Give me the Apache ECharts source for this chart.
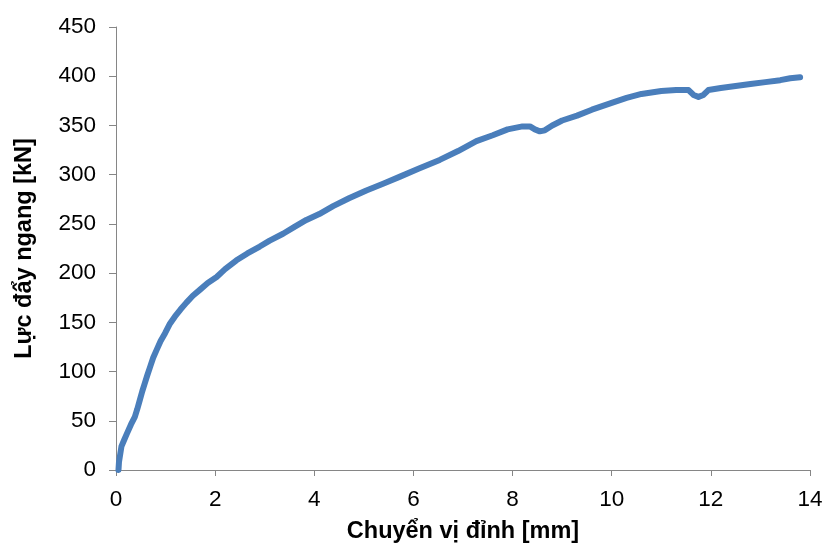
<!DOCTYPE html>
<html>
<head>
<meta charset="utf-8">
<script src="https://cdn.jsdelivr.net/npm/echarts@6/dist/echarts.min.js"></script>
<style>html,body{margin:0;padding:0;background:#fff}#c{width:831px;height:545px}</style>
</head>
<body>
<div id="c"></div>
<script>
const displacement = [0.05,0.06,0.07,0.11,0.16,0.22,0.30,0.38,0.43,0.48,0.53,0.58,0.63,0.69,0.75,0.82,0.90,0.99,1.08,1.19,1.30,1.42,1.55,1.69,1.85,2.03,2.20,2.43,2.65,2.90,3.10,3.37,3.60,3.84,4.10,4.38,4.70,5.05,5.40,5.73,6.10,6.53,6.90,7.27,7.60,7.90,8.20,8.35,8.45,8.55,8.65,8.80,9.00,9.30,9.60,10.00,10.30,10.60,11.00,11.30,11.55,11.65,11.75,11.85,11.95,12.20,12.50,12.80,13.10,13.40,13.60,13.80];
const force = [0,8,7,24,30,37,46,54,62,71,80,88,96,105,114,122,131,139,148,156,163,170,177,183,190,196,204,213,220,227,233,240,247,254,260,268,276,284,291,298,306,315,324,334,340,346,349,349,346,344,345,350,355,360,366,373,378,382,385,386,386,381,379,381,386,388,390,392,394,396,398,399];
const xTitle = "Chuyển vị đỉnh [mm]";
const yTitle = "Lực đẩy ngang [kN]";

const chart = echarts.init(document.getElementById('c'));
const font = '"Liberation Sans", Arial, sans-serif';
const axisGrey = '#868686';
chart.setOption({
  animation: false,
  backgroundColor: '#fff',
  grid: {left: 116, right: 21, top: 27, bottom: 75, containLabel: false, outerBoundsMode: 'none'},
  xAxis: {
    type: 'value', min: 0, max: 14, interval: 2,
    name: xTitle, nameLocation: 'middle', nameGap: 50,
    nameTextStyle: {fontFamily: font, fontSize: 23.5, fontWeight: 'bold', color: '#000'},
    axisLine: {show: true, onZero: false, lineStyle: {color: axisGrey, width: 1}},
    axisTick: {show: true, length: 6, lineStyle: {color: axisGrey}},
    axisLabel: {fontFamily: font, fontSize: 22.5, color: '#000', margin: 18},
    splitLine: {show: false}
  },
  yAxis: {
    type: 'value', min: 0, max: 450, interval: 50,
    name: yTitle, nameLocation: 'middle', nameGap: 79, nameRotate: 90,
    nameTextStyle: {fontFamily: font, fontSize: 23.5, fontWeight: 'bold', color: '#000'},
    axisLine: {show: true, lineStyle: {color: axisGrey, width: 1}},
    axisTick: {show: true, length: 7, lineStyle: {color: axisGrey}},
    axisLabel: {fontFamily: font, fontSize: 22.5, color: '#000', margin: 20},
    splitLine: {show: false}
  },
  series: [{
    type: 'line',
    data: displacement.map((x, i) => [x, force[i]]),
    showSymbol: false,
    smooth: false,
    lineStyle: {color: '#4a7ebb', width: 6, cap: 'round', join: 'round'},
    itemStyle: {color: '#4a7ebb'}
  }]
});
</script>
</body>
</html>
